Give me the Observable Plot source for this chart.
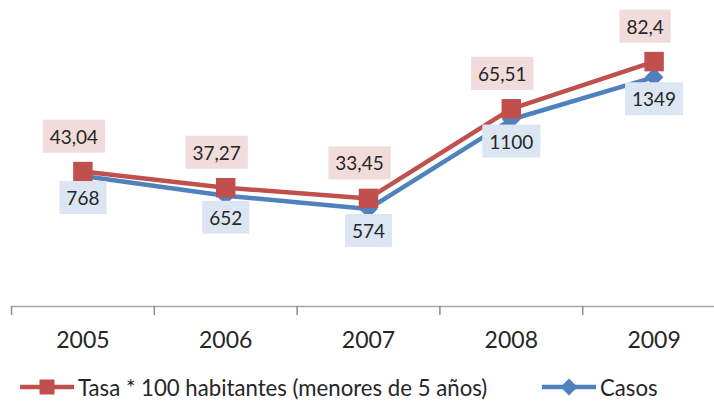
<!DOCTYPE html>
<html>
<head>
<meta charset="utf-8">
<script src="https://cdn.jsdelivr.net/npm/d3@7"></script>
<script src="https://cdn.jsdelivr.net/npm/@observablehq/plot@0.6"></script>
<style>
  html, body { margin: 0; padding: 0; background: #fff; overflow: hidden; }
  #wrap { position: relative; width: 714px; height: 402px; font-family: Lato, sans-serif; }
  .leg { position: absolute; top: 368px; height: 38px; display: flex; align-items: center; font-size: 22.2px; color: #262626; white-space: nowrap; }
  .leg svg { margin-right: 4px; }
</style>
</head>
<body>
<div id="wrap"></div>
<script>
// ---- data ----
const years = [2005, 2006, 2007, 2008, 2009];
const tasa = [43.04, 37.27, 33.45, 65.51, 82.4];
const casos = [768, 652, 574, 1100, 1349];
const seriesNames = ["Tasa * 100 habitantes (menores de 5 años)", "Casos"];
const categoryBoundaries = [2004.5, 2005.5, 2006.5, 2007.5, 2008.5];

const rows = years.map((year, i) => ({ year, tasa: tasa[i], casos: casos[i] }));

// secondary (hidden) axis for Tasa mapped onto the Casos axis
const tasaToY = d3.scaleLinear([0, 100], [86, 1730]);
const fmt = v => String(v).replace(".", ",");

const RED = "#c0504d", BLUE = "#4f81bd";

const chart = Plot.plot({
  width: 714,
  height: 360,
  marginTop: 16,
  marginBottom: 54,
  marginLeft: 11,
  marginRight: 0,
  style: { fontFamily: "Lato, sans-serif", background: "#fff", color: "#262626" },
  x: { type: "linear", domain: [2004.5, 2009.5], range: [11, 725], label: null },
  y: { domain: [0, 1706], axis: null },
  marks: [
    Plot.ruleY([0], { stroke: "#a6a6a6", strokeWidth: 1.5 }),
    Plot.axisX(categoryBoundaries, { tickSize: 9, tickFormat: () => "", stroke: "#8c8c8c", strokeWidth: 1.5, label: null }),
    Plot.axisX(years, { tickSize: 0, tickPadding: 25, fontSize: 23, tickFormat: d => String(d), fill: "#262626", label: null }),
    Plot.line(rows, { x: "year", y: "casos", stroke: BLUE, strokeWidth: 4.5 }),
    Plot.dot(rows, { x: "year", y: "casos", symbol: "diamond2", r: 8.4, fill: BLUE }),
    Plot.line(rows, { x: "year", y: d => tasaToY(d.tasa), stroke: RED, strokeWidth: 4.5 }),
    Plot.dot(rows, { x: "year", y: d => tasaToY(d.tasa), symbol: "square", r: 11, fill: RED }),
    Plot.text(rows, { x: "year", y: "casos", text: d => String(d.casos), dy: 23, dx: 0, fontSize: 19, fill: "#262626" }),
    Plot.text(rows, { x: "year", y: d => tasaToY(d.tasa), text: d => fmt(d.tasa), dy: -34, dx: -9, fontSize: 19, fill: "#262626" })
  ]
});

const wrap = document.getElementById("wrap");
wrap.appendChild(chart);

// label boxes behind the data labels
const textGroups = chart.querySelectorAll('g[aria-label="text"]');
const boxFills = ["#dce6f2", "#f2dcdb"];
textGroups.forEach((g, gi) => {
  g.querySelectorAll("text").forEach(t => {
    const b = t.getBBox();
    const w = b.width + 14, h = 33;
    const r = document.createElementNS("http://www.w3.org/2000/svg", "rect");
    r.setAttribute("x", b.x + b.width / 2 - w / 2);
    r.setAttribute("y", b.y + b.height / 2 - h / 2);
    r.setAttribute("width", w);
    r.setAttribute("height", h);
    r.setAttribute("fill", boxFills[gi] || "#eee");
    if (t.getAttribute("transform")) r.setAttribute("transform", t.getAttribute("transform"));
    g.insertBefore(r, t);
  });
});

// legend below the chart
function legendItem(left, color, marker, name) {
  const d = document.createElement("div");
  d.className = "leg";
  d.style.left = left + "px";
  const ns = "http://www.w3.org/2000/svg";
  const s = document.createElementNS(ns, "svg");
  s.setAttribute("width", 54); s.setAttribute("height", 20);
  const l = document.createElementNS(ns, "line");
  l.setAttribute("x1", 0); l.setAttribute("x2", 54); l.setAttribute("y1", 10); l.setAttribute("y2", 10);
  l.setAttribute("stroke", color); l.setAttribute("stroke-width", 4.5);
  s.appendChild(l);
  const m = document.createElementNS(ns, "path");
  m.setAttribute("d", marker);
  m.setAttribute("fill", color);
  m.setAttribute("transform", "translate(27,10)");
  s.appendChild(m);
  d.appendChild(s);
  const sp = document.createElement("span");
  sp.textContent = name;
  d.appendChild(sp);
  wrap.appendChild(d);
}
legendItem(20, RED, "M-7.5,-7.5h15v15h-15z", seriesNames[0]);
legendItem(542, BLUE, "M0,-8.5L8.5,0L0,8.5L-8.5,0z", seriesNames[1]);
</script>
</body>
</html>
